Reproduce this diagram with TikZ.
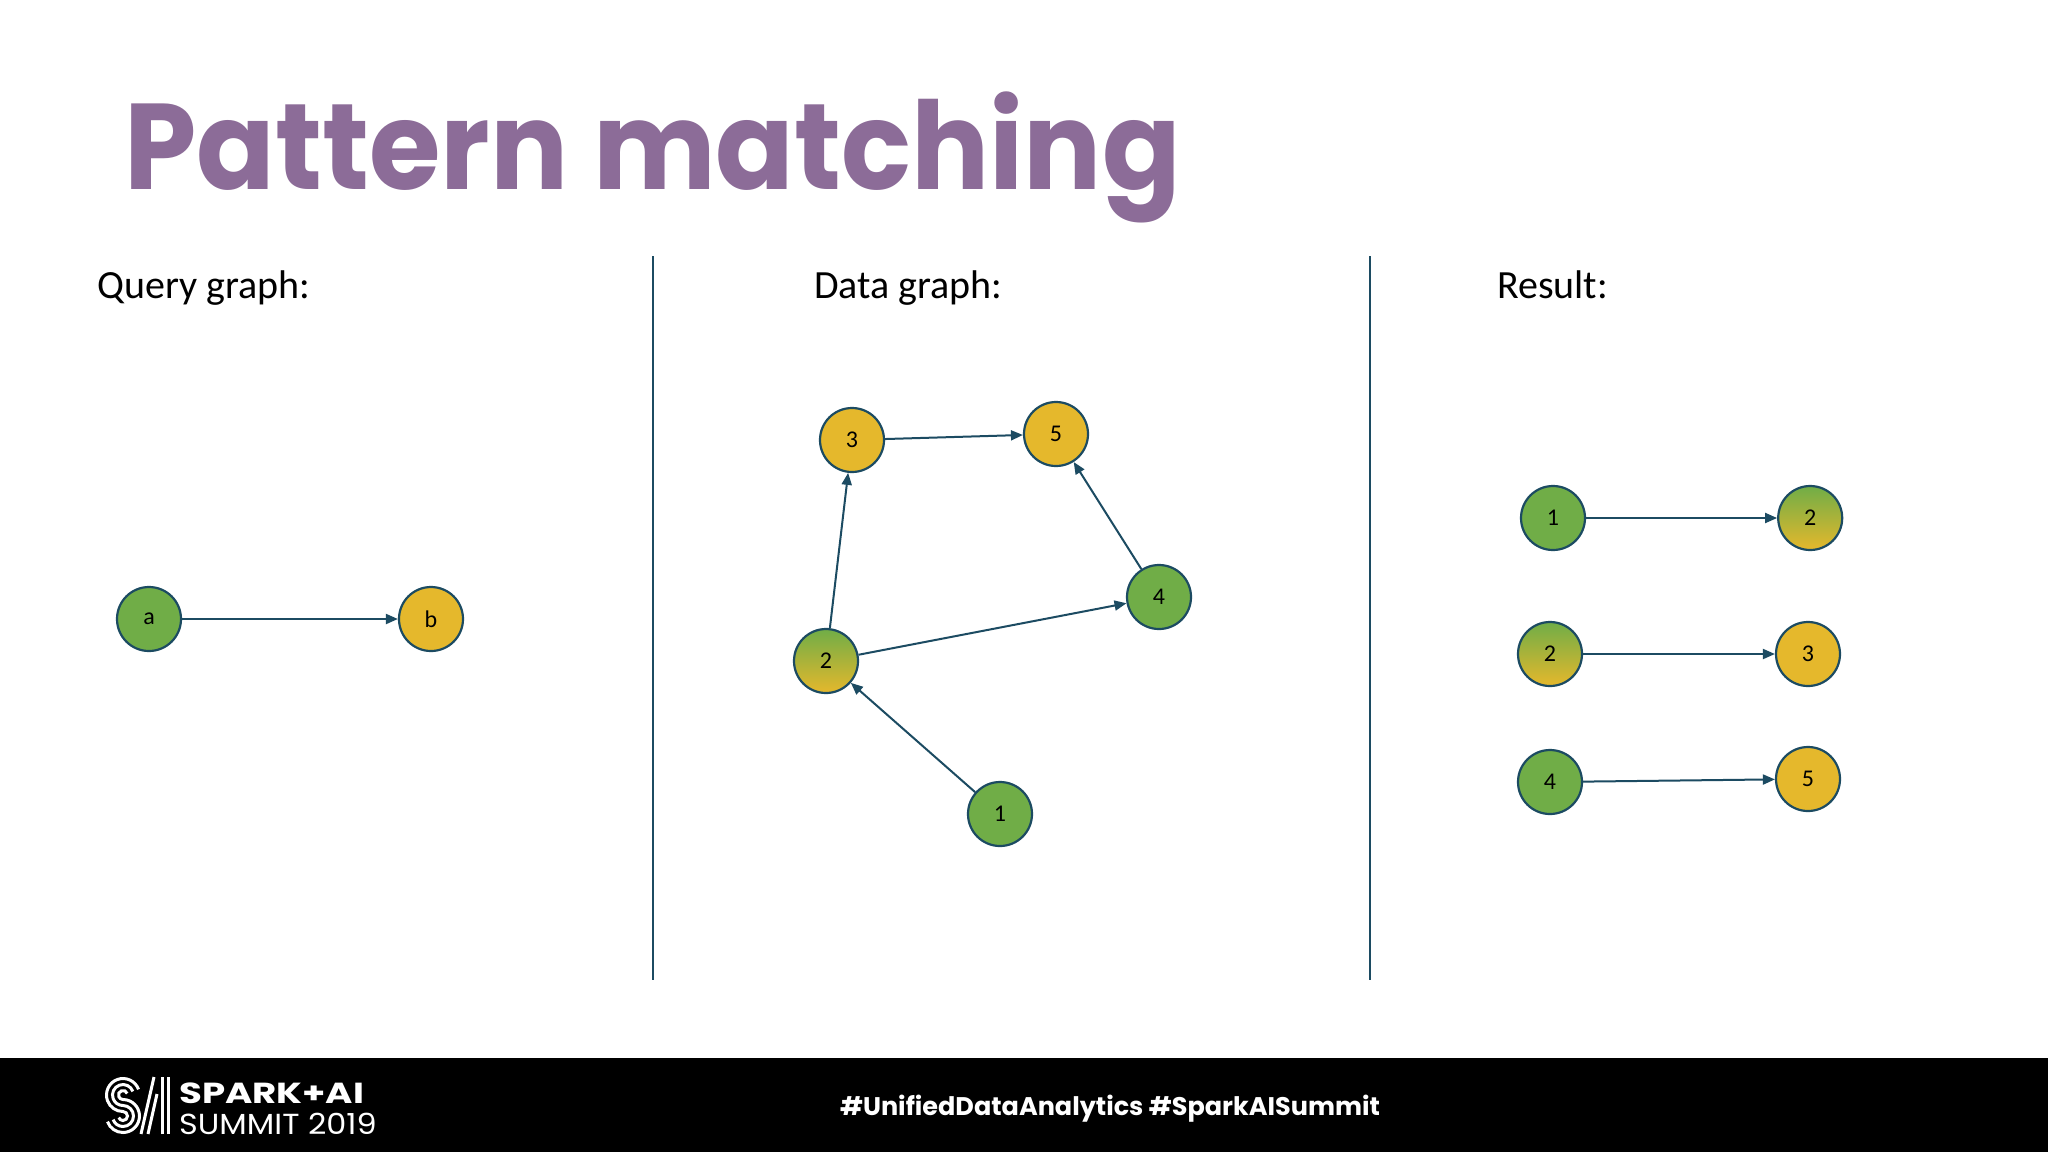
\documentclass[tikz,border=0pt]{standalone}
\usepackage{fontspec}
\setmainfont{Carlito}
\newfontfamily\titlefont{Poppins}
\usetikzlibrary{positioning, arrows.meta, calc}
\definecolor{TitlePurple}{RGB}{140,108,152}
\definecolor{NodeGreen}{RGB}{112,173,71}
\definecolor{NodeGold}{RGB}{229,184,44}
\definecolor{EdgeBlue}{RGB}{28,75,98}
\tikzset{
    greennode/.style={
        circle, draw=EdgeBlue, line width=2.2pt, fill=NodeGreen, minimum size=64pt, inner sep=0pt, font=\fontsize{24}{28}\selectfont
    },
    goldnode/.style={
        greennode, fill=NodeGold
    },
    mixnode/.style={
        greennode, top color=NodeGreen, bottom color=NodeGold
    },
    ptr/.style={
        -{Triangle[length=12pt, width=10pt]}, line width=2pt, EdgeBlue
    },
    headlabel/.style={
        anchor=base west, inner sep=0pt, font=\fontsize{40}{44}\selectfont
    },
    footlabel/.style={
        anchor=base west, inner sep=0pt, text=white
    }
}

\begin{document}
\begin{tikzpicture}[x=1pt, y=-1pt]
    \useasboundingbox (0,0) rectangle (2048,1152);
    \fill[white] (0,0) rectangle (2048,1152);
    \fill[black] (0,1058) rectangle (2048,1152);

    % title and headings
    \node[anchor=base west, inner sep=0pt, xscale=0.95, text=TitlePurple, font=\titlefont\bfseries\fontsize{122}{122}\selectfont] (title) at (124,189) {Pattern matching};
    \node[headlabel] (qhead) at (97,298) {Query graph:};
    \node[headlabel] (dhead) at (814,298) {Data graph:};
    \node[headlabel] (rhead) at (1497,298) {Result:};

    \draw[line width=2pt, EdgeBlue] (653,256) -- (653,980);
    \draw[line width=2pt, EdgeBlue] (1370,256) -- (1370,980);

    % query graph
    \node[greennode] (qa) at (149,619) {a};
    \node[goldnode] (qb) at (431,619) {b};
    \draw[ptr] (qa) -- (qb);

    % data graph
    \node[goldnode] (d3) at (852,440) {3};
    \node[goldnode] (d5) at (1056,434) {5};
    \node[greennode] (d4) at (1159,597) {4};
    \node[mixnode] (d2) at (826,661) {2};
    \node[greennode] (d1) at (1000,814) {1};
    \draw[ptr] (d1) -- (d2);
    \draw[ptr] (d2) -- (d3);
    \draw[ptr] (d3) -- (d5);
    \draw[ptr] (d2) -- (d4);
    \draw[ptr] (d4) -- (d5);

    % result
    \node[greennode] (r1) at (1553,518) {1};
    \node[mixnode, right=191pt of r1] (r2) {2};
    \node[mixnode] (s2) at (1550,654) {2};
    \node[goldnode] (s3) at (1808,654) {3};
    \node[greennode] (t4) at (1550,782) {4};
    \node[goldnode] (t5) at (1808,779) {5};
    \draw[ptr] (r1) -- (r2);
    \draw[ptr] (s2) -- (s3);
    \draw[ptr] (t4) -- (t5);

    % footer
    \begin{scope}[shift={(105,1134)}, y=1pt, white, line width=3pt]
        \foreach \r in {4.5,10.5,16.5} {
            \draw ($(18,39)+(20:\r)$) arc[start angle=20, end angle=270, radius=\r]
                arc[start angle=90, end angle=-160, radius=21-\r];
        }
        \draw (36,0) -- (49,57);
        \draw (43,0) -- (52,40);
        \draw (57,0) -- (57,57);
        \draw (63,0) -- (63,57);
    \end{scope}
    \node[footlabel, xscale=1.28, font=\titlefont\bfseries\fontsize{29}{29}\selectfont] (spark) at (179,1103) {SPARK+AI};
    \node[footlabel, xscale=1.1, font=\titlefont\fontsize{29}{29}\selectfont] (summit) at (179,1134) {SUMMIT 2019};
    \node[text=white, font=\titlefont\bfseries\fontsize{25.5}{30}\selectfont] (tags) at (1110,1109) {\#UnifiedDataAnalytics \#SparkAISummit};
\end{tikzpicture}
\end{document}
